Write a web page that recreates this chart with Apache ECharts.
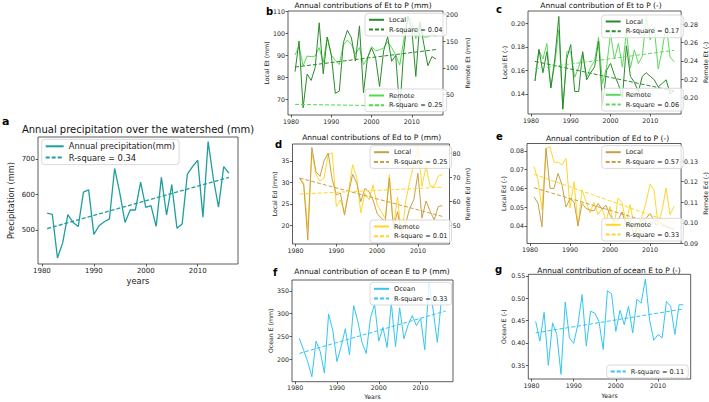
<!DOCTYPE html>
<html><head><meta charset="utf-8">
<script src="https://cdn.jsdelivr.net/npm/echarts@6/dist/echarts.min.js"></script>
<style>html,body{margin:0;padding:0;background:#fff}#c{width:709px;height:402px}</style>
</head><body><div id="c"></div>
<script>
// ---------------- DATA ----------------
const years = [1981,1982,1983,1984,1985,1986,1987,1988,1989,1990,1991,1992,1993,1994,1995,1996,1997,1998,1999,2000,2001,2002,2003,2004,2005,2006,2007,2008,2009,2010,2011,2012,2013,2014,2015,2016];
const trendYears = [1981, 2016];
const xTicks = [1980, 1990, 2000, 2010];

// a: annual precipitation (mm)
const precip = [548,545,423,465,544,522,511,607,613,489,513,524,532,673,604,522,557,557,635,564,569,511,648,543,628,506,518,657,678,696,537,748,645,565,678,660];
const precipTrend = [505, 648];

// b: Et to P (mm)
const etLocalMm = [82.6,96.6,66.1,81.5,78.6,84.5,104.9,81.6,98.4,90.2,72.7,73.7,95.8,101.5,98.1,87.4,103.5,73,89,93.4,89,75.8,92,98.5,87.3,90,65,92,108,102,80.4,105.5,95,85.3,89.5,88.3];
const etRemoteMm = [124,140,104,122,121,122,138,110,158,124,114,106,143,152,144,126,138,106,118,140,132,134,137,149,138,124,105,152,198,187,155,184,158,158,163,159];
const etLocalMmTrend = [84.7, 92.7];
const etRemoteMmTrend = [31, 27];

// c: Et to P (-)
const etLocalFr = [0.151,0.178,0.158,0.176,0.145,0.170,0.206,0.127,0.170,0.182,0.142,0.142,0.176,0.152,0.158,0.163,0.185,0.130,0.160,0.166,0.156,0.148,0.137,0.181,0.155,0.150,0.142,0.155,0.158,0.155,0.152,0.146,0.149,0.152,0.140,0.143];
const etRemoteFr = [0.218,0.252,0.242,0.259,0.211,0.237,0.274,0.187,0.250,0.250,0.222,0.233,0.248,0.222,0.233,0.240,0.266,0.215,0.233,0.270,0.242,0.259,0.233,0.272,0.232,0.252,0.237,0.245,0.288,0.263,0.277,0.231,0.252,0.279,0.244,0.239];
const etLocalFrTrend = [0.1677, 0.1425];
const etRemoteFrTrend = [0.2314, 0.2516];

// d: Ed to P (mm)
const edLocalMm = [31,29.4,16.6,38.1,32.5,31.4,35,36.8,30.6,27.1,27.5,22.4,27.5,31.9,29.8,25.5,28.6,27.8,25.9,22.8,21.7,20.9,31,19.3,23.2,17.8,20.5,24,26,32.1,21.7,25.7,23.3,21.3,24.4,24.6];
const edRemoteMm = [69.9,67.8,49,80.3,71.3,68.5,69.9,79.6,80.3,58,60.8,55.3,64.3,75.4,69.9,55.3,63.6,60.8,67,58.8,56,53,71.3,49.7,62,45,60.1,68.5,75.4,83,66.4,74.7,66.4,66.4,70.6,71.3];
const edLocalMmTrend = [31, 22.1];
const edRemoteMmTrend = [63.2, 66];

// e: Ed to P (-)
const edLocalFr = [0.0555,0.052,0.0395,0.0813,0.060,0.060,0.068,0.0617,0.050,0.0546,0.0528,0.040,0.052,0.0493,0.0484,0.048,0.052,0.049,0.051,0.0457,0.043,0.043,0.0475,0.040,0.043,0.034,0.041,0.043,0.044,0.0466,0.0428,0.043,0.041,0.040,0.039,0.038];
const edRemoteFr = [0.1273,0.1209,0.1064,0.1361,0.1369,0.1294,0.1294,0.1281,0.1313,0.1073,0.120,0.0984,0.116,0.1104,0.1049,0.110,0.104,0.107,0.1008,0.108,0.098,0.112,0.1097,0.100,0.1088,0.0992,0.092,0.103,0.110,0.1188,0.116,0.099,0.106,0.1169,0.104,0.108];
const edLocalFrTrend = [0.0603, 0.0381];
const edRemoteFrTrend = [0.1236, 0.0998];

// f: ocean E to P (mm)
const oceanMm = [246,221,195,162,240,217,170,299,264,195,228,267,210,318,283,237,213,290,321,240,270,226,323,228,313,245,275,296,274,290,221,369,308,237,334,321];
const oceanMmTrend = [213, 306];

// g: ocean E to P (-)
const oceanFr = [0.4485,0.404,0.4685,0.35,0.445,0.419,0.33,0.4915,0.4115,0.399,0.441,0.508,0.393,0.471,0.467,0.4485,0.3855,0.517,0.510,0.426,0.473,0.441,0.482,0.4225,0.498,0.489,0.543,0.452,0.406,0.419,0.4115,0.493,0.482,0.419,0.4855,0.4855];
const oceanFrTrend = [0.4226, 0.476];

// ---------------- BUILD ----------------
const FONT = 'DejaVu Sans';
const TXT = '#222';
function pts(v){ return years.map((y,i)=>[y, v[i]]); }
function tpts(v){ return trendYears.map((y,i)=>[y, v[i]]); }

const C = {
  teal:'#1e9e9e', dg:'#2b8a2b', lg:'#4edc4e', lg2:'#5fd75f',
  dgold:'#c9a048', gold:'#ffd62a', sky:'#33c6f3'
};

const grids=[], xAxes=[], yAxes=[], series=[], legends=[], graphics=[];

function fmtFor(dec){ return v => dec==null ? String(v) : v.toFixed(dec); }

function yAx(gi, pos, a, tick, nameSize){
  return {
    type:'value', gridIndex:gi, position:pos, min:a.min, max:a.max,
    axisLine:{show:false}, splitLine:{show:false},
    axisTick:{show:true, length:2.5, lineStyle:{color:'#333', width:0.8}, customValues:a.ticks},
    axisLabel:{customValues:a.ticks, fontSize:tick, color:TXT, margin:3, fontFamily:FONT, formatter:fmtFor(a.dec)},
    name:a.name, nameLocation:'middle', nameGap:a.gap,
    nameTextStyle:{fontSize:nameSize, fontFamily:FONT, color:TXT}
  };
}

function addPanel(p){
  const gi = grids.length;
  const [l,t,r,b] = p.box;
  grids.push({left:l, top:t, width:r-l, height:b-t, show:true, borderColor:'#333', borderWidth:0.8, backgroundColor:'rgba(0,0,0,0)'});
  xAxes.push({
    type:'value', gridIndex:gi, min:1979.25, max:2017.75,
    axisLine:{show:false}, splitLine:{show:false},
    axisTick:{show:true, length:2.5, lineStyle:{color:'#333', width:0.8}, customValues:xTicks},
    axisLabel:{customValues:xTicks, fontSize:p.tick, color:TXT, margin:3, fontFamily:FONT, formatter:v=>String(v)},
    name:p.xname||'', nameLocation:'middle', nameGap:p.xgap||12,
    nameTextStyle:{fontSize:p.nameSize, fontFamily:FONT, color:TXT}
  });
  const yl = yAxes.length;
  yAxes.push(yAx(gi,'left',p.left,p.tick,p.nameSize));
  let yr = yl;
  if(p.right){ yr = yAxes.length; yAxes.push(yAx(gi,'right',p.right,p.tick,p.nameSize)); }
  p.series.forEach(s=>{
    series.push({
      type:'line', name:s.name, xAxisIndex:gi, yAxisIndex: s.axis==='right'?yr:yl,
      data:s.data, symbol:'none', showSymbol:false, animation:false,
      lineStyle:{color:s.color, width:p.lw, type: s.dashed?[4,2]:'solid'},
      itemStyle:{color:s.color}, z: s.dashed?3:2
    });
  });
  p.legends.forEach(lg=>{
    legends.push({
      left:lg.left, top:lg.top, orient:'vertical', data:lg.names,
      itemWidth:p.legW, itemHeight:6, itemGap:p.legGap, padding:[3,4,3,3],
      backgroundColor:'rgba(255,255,255,0.8)', borderColor:'#cfcfcf', borderWidth:0.8, borderRadius:3,
      itemStyle:{opacity:0},
      textStyle:{fontSize:p.legSize, fontFamily:FONT, color:TXT},
      formatter: n => n.split('|')[1], selectedMode:false
    });
  });
  graphics.push({type:'text', x:p.title[0], y:p.title[1], style:{text:p.title[2], font:`${p.titleSize}px "${FONT}"`, fill:'#111', align:'center', verticalAlign:'middle'}});
  graphics.push({type:'text', x:p.letter[0], y:p.letter[1], style:{text:p.letter[2], font:`bold ${p.letterSize}px "${FONT}"`, fill:'#000', align:'left', verticalAlign:'middle'}});
}

const small = {tick:6.3, nameSize:6.2, legSize:6.6, legW:15, legGap:2.7, lw:1, titleSize:7.5, letterSize:10};

addPanel({
  box:[38,137,238,264], tick:7, nameSize:8.3, legSize:8.3, legW:18, legGap:3.3, lw:1.3, titleSize:10, letterSize:11,
  xname:'years', xgap:13,
  left:{min:406, max:761, ticks:[500,600,700], name:'Precipitation (mm)', gap:23},
  series:[
    {name:'a|Annual precipitation(mm)', data:pts(precip), color:C.teal},
    {name:'a|R-square = 0.34', data:tpts(precipTrend), color:C.teal, dashed:true}
  ],
  legends:[{left:41.7, top:139.3, names:['a|Annual precipitation(mm)','a|R-square = 0.34']}],
  title:[138,129,'Annual precipitation over the watershed (mm)'], letter:[2,121,'a']
});

addPanel(Object.assign({}, small, {
  box:[288,11,443,115],
  left:{min:62.8, max:110.3, ticks:[70,80,90,100,110], name:'Local Et (mm)', gap:16.5},
  right:{min:11, max:207, ticks:[50,100,150,200], name:'Remote Et (mm)', gap:21.5},
  series:[
    {name:'b|Remote', data:pts(etRemoteMm), color:C.lg, axis:'right'},
    {name:'b|Local', data:pts(etLocalMm), color:C.dg},
    {name:'b|R-square = 0.04', data:tpts(etLocalMmTrend), color:C.dg, dashed:true},
    {name:'b|R-square = 0.25', data:tpts(etRemoteMmTrend), color:C.lg, dashed:true, axis:'right'}
  ],
  legends:[{left:365, top:13.3, names:['b|Local','b|R-square = 0.04']},{left:365, top:89, names:['b|Remote','b|R-square = 0.25']}],
  title:[363,5.7,'Annual contributions of Et to P (mm)'], letter:[266,11,'b']
}));

addPanel(Object.assign({}, small, {
  box:[528,11,682,114],
  left:{min:0.1229, max:0.2106, ticks:[0.14,0.16,0.18,0.20], name:'Local Et (-)', gap:20.5, dec:2},
  right:{min:0.1817, max:0.2947, ticks:[0.20,0.22,0.24,0.26,0.28], name:'Remote Et (-)', gap:18.5, dec:2},
  series:[
    {name:'c|Remote', data:pts(etRemoteFr), color:C.lg2, axis:'right'},
    {name:'c|Local', data:pts(etLocalFr), color:C.dg},
    {name:'c|R-square = 0.17', data:tpts(etLocalFrTrend), color:C.dg, dashed:true},
    {name:'c|R-square = 0.06', data:tpts(etRemoteFrTrend), color:C.lg2, dashed:true, axis:'right'}
  ],
  legends:[{left:601.7, top:15, names:['c|Local','c|R-square = 0.17']},{left:601.7, top:88.3, names:['c|Remote','c|R-square = 0.06']}],
  title:[601,5.7,'Annual contribution of Et to P (-)'], letter:[496,9,'c']
}));

addPanel(Object.assign({}, small, {
  box:[292.5,144,449.5,244],
  left:{min:15.7, max:38.9, ticks:[20,25,30,35], name:'Local Ed (mm)', gap:11},
  right:{min:42.4, max:84, ticks:[50,60,70,80], name:'Remote Ed (mm)', gap:14.7},
  series:[
    {name:'d|Remote', data:pts(edRemoteMm), color:C.gold, axis:'right'},
    {name:'d|Local', data:pts(edLocalMm), color:C.dgold},
    {name:'d|R-square = 0.25', data:tpts(edLocalMmTrend), color:C.dgold, dashed:true},
    {name:'d|R-square = 0.01', data:tpts(edRemoteMmTrend), color:C.gold, dashed:true, axis:'right'}
  ],
  legends:[{left:370, top:145.7, names:['d|Local','d|R-square = 0.25']},{left:370, top:220, names:['d|Remote','d|R-square = 0.01']}],
  title:[371.7,137.7,'Annual contributions of Ed to P (mm)'], letter:[275,144,'d']
}));

addPanel(Object.assign({}, small, {
  box:[527,143.5,682,243.5],
  left:{min:0.0306, max:0.0839, ticks:[0.04,0.05,0.06,0.07,0.08], name:'Local Ed (-)', gap:20.5, dec:2},
  right:{min:0.0900, max:0.1385, ticks:[0.09,0.10,0.11,0.12,0.13], name:'Remote Ed (-)', gap:20.5, dec:2},
  series:[
    {name:'e|Remote', data:pts(edRemoteFr), color:C.gold, axis:'right'},
    {name:'e|Local', data:pts(edLocalFr), color:C.dgold},
    {name:'e|R-square = 0.57', data:tpts(edLocalFrTrend), color:C.dgold, dashed:true},
    {name:'e|R-square = 0.33', data:tpts(edRemoteFrTrend), color:C.gold, dashed:true, axis:'right'}
  ],
  legends:[{left:601.7, top:145.7, names:['e|Local','e|R-square = 0.57']},{left:601.7, top:218.3, names:['e|Remote','e|R-square = 0.33']}],
  title:[607.5,138.3,'Annual contribution of Ed to P (-)'], letter:[496,136.5,'e']
}));

addPanel(Object.assign({}, small, {
  box:[292,280,453,381.7], xname:'Years', xgap:12,
  left:{min:151, max:374, ticks:[200,250,300,350], name:'Ocean E (mm)', gap:18.5},
  series:[
    {name:'f|Ocean', data:pts(oceanMm), color:C.sky},
    {name:'f|R-square = 0.33', data:tpts(oceanMmTrend), color:C.sky, dashed:true}
  ],
  legends:[{left:370, top:282.3, names:['f|Ocean','f|R-square = 0.33']}],
  title:[372,271.7,'Annual contribution of ocean E to P (mm)'], letter:[273,272,'f']
}));

addPanel(Object.assign({}, small, {
  box:[528.3,274.3,690.7,379], xname:'Years', xgap:13.5,
  left:{min:0.3194, max:0.5537, ticks:[0.35,0.40,0.45,0.50,0.55], name:'Ocean E (-)', gap:21.5, dec:2},
  series:[
    {name:'g|Ocean', data:pts(oceanFr), color:C.sky},
    {name:'g|R-square = 0.11', data:tpts(oceanFrTrend), color:C.sky, dashed:true}
  ],
  legends:[{left:606.7, top:365, names:['g|R-square = 0.11']}],
  title:[609,270,'Annual contribution of ocean E to P (-)'], letter:[495,269,'g']
}));

const chart = echarts.init(document.getElementById('c'), null, {renderer:'svg'});
chart.setOption({
  animation:false, backgroundColor:'#fff',
  textStyle:{fontFamily:FONT},
  grid:grids, xAxis:xAxes, yAxis:yAxes, series:series, legend:legends, graphic:graphics
});
</script></body></html>
